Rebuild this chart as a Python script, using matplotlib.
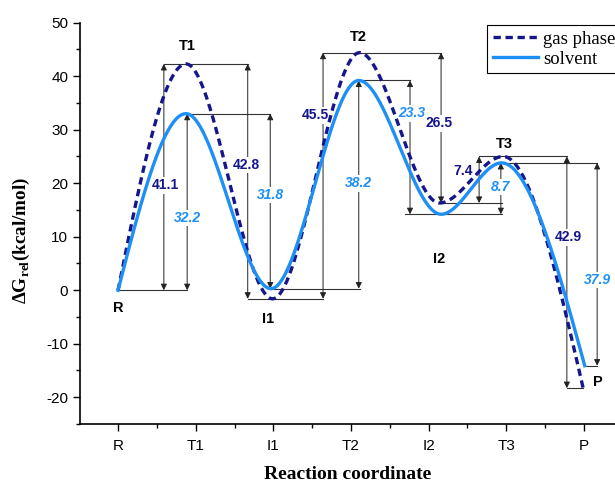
import numpy as np
import matplotlib
matplotlib.use('Agg')
import matplotlib.pyplot as plt
from matplotlib.ticker import MultipleLocator

plt.rcParams['axes.unicode_minus'] = False
plt.rcParams['mathtext.fontset'] = 'custom'
plt.rcParams['mathtext.rm'] = 'Liberation Serif'
plt.rcParams['mathtext.bf'] = 'Liberation Serif:bold'

# stationary points
states = ['R', 'T1', 'I1', 'T2', 'I2', 'T3', 'P']
x_gas = [0.0, 0.875, 1.99, 3.11, 4.14, 4.96, 5.99]
g_gas = [0.0, 42.3, -1.6, 44.4, 16.3, 25.0, -18.3]
x_sol = [0.0, 0.875, 1.97, 3.10, 4.16, 4.94, 6.01]
g_sol = [0.0, 33.0, 0.3, 39.2, 14.2, 23.8, -14.1]

# barrier / step labels: (from node, to node, arrow x, text, text x, text y)
gas_steps = [(0, 1, 0.59, '41.1', 0.61, 19.6),
             (1, 2, 1.67, '42.8', 1.65, 23.4),
             (2, 3, 2.64, '45.5', 2.54, 32.7),
             (3, 4, 4.16, '26.5', 4.13, 31.2),
             (4, 5, 4.65, '7.4', 4.44, 22.2),
             (5, 6, 5.78, '42.9', 5.80, 9.9)]
sol_steps = [(0, 1, 0.89, '32.2', 0.89, 13.5),
             (1, 2, 1.96, '31.8', 1.96, 17.8),
             (2, 3, 3.10, '38.2', 3.09, 20.0),
             (3, 4, 3.76, '23.3', 3.78, 33.1),
             (4, 5, 4.93, '8.7', 4.93, 19.3),
             (5, 6, 6.17, '37.9', 6.18, 1.9)]

# horizontal guide lines: (node, x start, x end)
gas_guides = [(0, 0.0, 0.89), (1, 0.59, 1.67), (2, 1.67, 2.64), (3, 2.64, 4.16),
              (4, 4.14, 4.94), (5, 4.65, 5.78), (6, 5.78, 5.99)]
sol_guides = [(1, 0.875, 1.96), (2, 1.96, 3.11), (3, 3.10, 3.76),
              (4, 3.70, 4.94), (5, 4.93, 6.17), (6, 6.01, 6.17)]

# state label positions
lab_pos = {'R': (0.0, -3.3), 'T1': (0.89, 45.6), 'I1': (1.93, -5.4), 'T2': (3.09, 47.3),
           'I2': (4.14, 5.8), 'T3': (4.98, 27.3), 'P': (6.18, -17.2)}

c_gas = '#16168C'
c_sol = '#1E8FF5'


def smooth(xs, ys, n=80):
    # hermite curve with flat tangents at the stationary points
    xs = np.asarray(xs); ys = np.asarray(ys)
    m = np.zeros(len(xs))
    m[0] = 1.5 * (ys[1] - ys[0]) / (xs[1] - xs[0])
    m[-1] = 1.5 * (ys[-1] - ys[-2]) / (xs[-1] - xs[-2])
    px, py = [], []
    for i in range(len(xs) - 1):
        h = xs[i + 1] - xs[i]
        t = np.linspace(0, 1, n)
        h00 = 2 * t**3 - 3 * t**2 + 1
        h10 = t**3 - 2 * t**2 + t
        h01 = -2 * t**3 + 3 * t**2
        h11 = t**3 - t**2
        px.append(xs[i] + t * h)
        py.append(h00 * ys[i] + h10 * h * m[i] + h01 * ys[i + 1] + h11 * h * m[i + 1])
    return np.concatenate(px), np.concatenate(py)


fig = plt.figure(figsize=(6.15, 4.84), dpi=100)
ax = fig.add_axes([80 / 615, 60 / 484, 535 / 615, 401.3 / 484])

for guides, vals in ((gas_guides, g_gas), (sol_guides, g_sol)):
    for k, a, b in guides:
        ax.plot([a, b], [vals[k], vals[k]], color='#333333', lw=0.8, zorder=1)

for steps, vals, col, style in ((gas_steps, g_gas, c_gas, 'normal'),
                                (sol_steps, g_sol, c_sol, 'italic')):
    for i0, i1, xa, txt, tx, ty in steps:
        ax.annotate('', xy=(xa, vals[i1]), xytext=(xa, vals[i0]),
                    arrowprops=dict(arrowstyle='<|-|>', color='#222222', lw=0.7,
                                    mutation_scale=9, shrinkA=0, shrinkB=0), zorder=2)
        ax.text(tx, ty, txt, color=col, fontsize=10, fontweight='bold', style=style,
                family='Liberation Sans', ha='center', va='center', zorder=3,
                bbox=dict(facecolor='white', edgecolor='none', pad=1.0))

xg, yg = smooth(x_gas, g_gas)
xs, ys = smooth(x_sol, g_sol)
ax.plot(xg, yg, color=c_gas, lw=2.4, dashes=(2.2, 1.4), label='gas phase', zorder=4)
ax.plot(xs, ys, color=c_sol, lw=2.4, label='solvent', zorder=5)

for s, (lx, ly) in lab_pos.items():
    ax.text(lx, ly, s, fontsize=10.5, fontweight='bold', family='Liberation Sans',
            ha='center', va='center', zorder=6)

ax.set_xlim(-0.49, 6.4)
ax.set_ylim(-25, 50)
ax.set_xticks(range(len(states)))
ax.set_xticklabels(states)
ax.xaxis.set_minor_locator(MultipleLocator(0.5))
ax.yaxis.set_major_locator(MultipleLocator(10))
ax.yaxis.set_minor_locator(MultipleLocator(5))
ax.spines['top'].set_visible(False)
ax.spines['right'].set_visible(False)
for sp in ('left', 'bottom'):
    ax.spines[sp].set_linewidth(1.2)
ax.tick_params(which='major', direction='out', length=5, width=1.0, labelsize=11)
ax.tick_params(axis='x', which='major', pad=6)
ax.tick_params(which='minor', direction='out', length=3, width=1.0)
for lab in ax.get_xticklabels() + ax.get_yticklabels():
    lab.set_family('Liberation Sans')

ax.set_xlabel('Reaction coordinate', family='Liberation Serif', fontweight='bold',
              fontsize=14)
ax.xaxis.set_label_coords(0.5, -0.105)
ax.set_ylabel(r'$\mathbf{\Delta G}_{\mathbf{rel}}$(kcal/mol)', family='Liberation Serif',
              fontweight='bold', fontsize=13.8)
ax.yaxis.set_label_coords(-0.09, 0.458)

leg = ax.legend(loc='upper left', bbox_to_anchor=(487 / 615, 1 - 25 / 484),
                bbox_transform=fig.transFigure, prop={'family': 'Liberation Serif', 'size': 13.5},
                frameon=True, fancybox=False, edgecolor='black', framealpha=1,
                borderaxespad=0, handlelength=2.4, handletextpad=0.3,
                borderpad=0.3, labelspacing=0.15)
leg.get_frame().set_linewidth(0.8)

fig.savefig('out.png', dpi=100)
